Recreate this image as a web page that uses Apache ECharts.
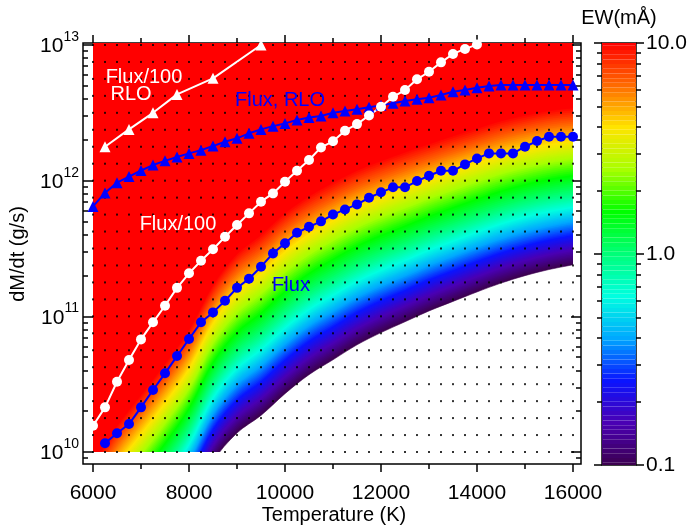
<!DOCTYPE html>
<html>
<head>
<meta charset="utf-8">
<script src="https://cdn.jsdelivr.net/npm/echarts@6/dist/echarts.min.js"></script>
<style>
  html, body { margin: 0; padding: 0; background: #fff; }
  #chart { width: 692px; height: 527px; }
</style>
</head>
<body>
<div id="chart"></div>
<script>
// 字体（Helvetica 风格）
const FONT = '"Liberation Sans", Arial, Helvetica, sans-serif';

// EW 场：每个温度列上读出的等值线位置（log10 dM/dt）
const fieldTemps = [6000, 6500, 7000, 7500, 8000, 8500, 9000, 9500, 10000, 10500, 11000,
  11500, 12000, 12500, 13000, 13500, 14000, 14500, 15000, 15500, 16000];
const logMdotEW01 = [8.55, 8.84, 9.07, 9.31, 9.58, 9.93, 10.14, 10.27, 10.43, 10.57, 10.68,
  10.79, 10.88, 10.96, 11.04, 11.11, 11.18, 11.245, 11.30, 11.345, 11.38];   // EW = 0.1 mÅ
const logMdotEW1 = [9.16, 9.45, 9.68, 9.91, 10.17, 10.51, 10.73, 10.87, 11.03, 11.165, 11.27,
  11.37, 11.45, 11.52, 11.595, 11.66, 11.725, 11.785, 11.835, 11.875, 11.905];  // EW = 1 mÅ
const logMdotEW10 = [9.90, 10.19, 10.42, 10.65, 10.90, 11.23, 11.46, 11.60, 11.76, 11.885, 11.985,
  12.075, 12.145, 12.21, 12.27, 12.33, 12.385, 12.44, 12.48, 12.515, 12.535];   // EW = 10 mÅ

// 模型网格点（黑色小点）
const gridTemps = [6000, 6250, 6500, 6750, 7000, 7250, 7500, 7750, 8000, 8250, 8500, 8750,
  9000, 9250, 9500, 9750, 10000, 10250, 10500, 10750, 11000, 11250, 11500, 11750, 12000,
  12250, 12500, 12750, 13000, 13250, 13500, 13750, 14000, 14250, 14500, 14750, 15000,
  15250, 15500, 15750, 16000];
const gridLogMdot = [10, 10.125, 10.25, 10.375, 10.5, 10.625, 10.75, 10.875, 11, 11.125,
  11.25, 11.375, 11.5, 11.625, 11.75, 11.875, 12, 12.125, 12.25, 12.375, 12.5, 12.625,
  12.75, 12.875, 13];

// 曲线：Flux/100 RLO（白色三角）
const rlo100Temps = [6250, 6750, 7250, 7750, 8500, 9500];
const rlo100LogMdot = [12.25, 12.378, 12.50, 12.636, 12.754, 13.0];

// 曲线：Flux, RLO（蓝色三角）
const rloTemps = [6000, 6250, 6500, 6750, 7000, 7250, 7500, 7750, 8000, 8250, 8500, 8750,
  9000, 9250, 9500, 9750, 10000, 10250, 10500, 10750, 11000, 11250, 11500, 11750, 12000,
  12250, 12500, 12750, 13000, 13250, 13500, 13750, 14000, 14250, 14500, 14750, 15000,
  15250, 15500, 15750, 16000];
const rloLogMdot = [11.81, 11.91, 11.985, 12.03, 12.075, 12.115, 12.146, 12.174, 12.201,
  12.225, 12.255, 12.287, 12.312, 12.349, 12.378, 12.402, 12.422, 12.447, 12.466, 12.476,
  12.50, 12.513, 12.527, 12.541, 12.555, 12.57, 12.587, 12.60, 12.611, 12.631, 12.655,
  12.668, 12.685, 12.697, 12.705, 12.705, 12.705, 12.705, 12.705, 12.705, 12.705];

// 曲线：Flux/100（白色圆点）
const flux100Temps = [6000, 6250, 6500, 6750, 7000, 7250, 7500, 7750, 8000, 8250, 8500,
  8750, 9000, 9250, 9500, 9750, 10000, 10250, 10500, 10750, 11000, 11250, 11500, 11750,
  12000, 12250, 12500, 12750, 13000, 13250, 13500, 13750, 14000];
const flux100LogMdot = [10.194, 10.329, 10.518, 10.678, 10.83, 10.956, 11.078, 11.21,
  11.317, 11.41, 11.494, 11.587, 11.673, 11.759, 11.845, 11.906, 11.992, 12.073, 12.152,
  12.245, 12.29, 12.368, 12.417, 12.48, 12.545, 12.618, 12.668, 12.747, 12.803, 12.872,
  12.934, 12.971, 13.003];

// 曲线：Flux（蓝色圆点）
const fluxTemps = [6250, 6500, 6750, 7000, 7250, 7500, 7750, 8000, 8250, 8500, 8750, 9000,
  9250, 9500, 9750, 10000, 10250, 10500, 10750, 11000, 11250, 11500, 11750, 12000, 12250,
  12500, 12750, 13000, 13250, 13500, 13750, 14000, 14250, 14500, 14750, 15000, 15250,
  15500, 15750, 16000];
const fluxLogMdot = [10.064, 10.138, 10.206, 10.329, 10.457, 10.58, 10.707, 10.833, 10.956,
  11.029, 11.115, 11.21, 11.277, 11.366, 11.464, 11.538, 11.616, 11.66, 11.70, 11.75,
  11.788, 11.825, 11.874, 11.914, 11.951, 11.951, 11.997, 12.036, 12.073, 12.073, 12.12,
  12.164, 12.201, 12.201, 12.201, 12.25, 12.292, 12.324, 12.324, 12.324];

// 刻度
const xMajorTicks = [6000, 8000, 10000, 12000, 14000, 16000];
const xMinorTicks = [7000, 9000, 11000, 13000, 15000];
const yMajorTicks = [10, 11, 12, 13];
const cbTickValues = [-1, 0, 1];
const cbTickLabels = ['0.1', '1.0', '10.0'];

// 彩虹色表（IDL Rainbow 近似），log10(EW) 从 -1 到 1 均匀分布
const ewColors = ['#3c0050', '#4a00b4', '#0a14ff', '#00a8ff', '#00ffe0', '#00ff78',
  '#00ff00', '#a8ff00', '#ffe400', '#ff6a00', '#ff0000'];

// 对数次刻度位置
const logMinor = (decades, lo, hi) => {
  const out = [];
  decades.forEach(d => { for (let k = 2; k <= 9; k++) { const v = d + Math.log10(k); if (v > lo && v < hi) out.push(v); } });
  return out;
};
const yMin = 9.9116, yMax = 13.0147;
const yMinorTicks = logMinor([9, 10, 11, 12, 13], yMin, yMax);
const cbMinorTicks = logMinor([-1, 0], -1, 1);

// 色阶层：逐层涂色
const N_LEVELS = 90;
const levels = [];
for (let k = 0; k <= N_LEVELS; k++) levels.push([-1 + 2 * k / N_LEVELS]);

function contourAt(i, e) {
  if (e <= 0) return logMdotEW01[i] + (e + 1) * (logMdotEW1[i] - logMdotEW01[i]);
  return logMdotEW1[i] + e * (logMdotEW10[i] - logMdotEW1[i]);
}

const chart = echarts.init(document.getElementById('chart'), null, { renderer: 'canvas' });

const tickAxisX = (pos, values, len, extra) => Object.assign({
  type: 'value', gridIndex: 0, position: pos, min: 5791.7, max: 16166.7,
  axisLine: { show: false, onZero: false },
  axisTick: { show: true, inside: false, length: len, customValues: values, lineStyle: { color: '#000', width: 1.5 } },
  axisLabel: { show: false },
  splitLine: { show: false }
}, extra || {});

const tickAxisY = (grid, pos, min, max, values, len, inside, extra) => Object.assign({
  type: 'value', gridIndex: grid, position: pos, min: min, max: max,
  axisLine: { show: false, onZero: false },
  axisTick: { show: true, inside: inside, length: len, customValues: values, lineStyle: { color: '#000', width: 1.5 } },
  axisLabel: { show: false },
  splitLine: { show: false }
}, extra || {});

const lineSeries = (name, xs, ys, color, symbol, size) => ({
  name: name, type: 'line', xAxisIndex: 0, yAxisIndex: 0,
  data: xs.map((t, i) => [t, ys[i]]),
  symbol: symbol, symbolSize: size, showSymbol: true,
  lineStyle: { color: color, width: 2 },
  itemStyle: { color: color, borderWidth: 0 },
  clip: true, z: 5, animation: false, silent: true
});

const option = {
  animation: false,
  backgroundColor: '#fff',
  grid: [
    { left: 83, top: 43, width: 498, height: 421, show: true, borderColor: '#000', borderWidth: 1.5, backgroundColor: 'transparent' },
    { left: 602, top: 43, width: 34, height: 422, show: true, borderColor: '#000', borderWidth: 1.5, backgroundColor: 'transparent' }
  ],
  xAxis: [
    tickAxisX('bottom', xMajorTicks, 8, {
      axisLabel: {
        show: true, customValues: xMajorTicks, margin: 19,
        formatter: v => String(v),
        color: '#000', fontSize: 21, fontFamily: FONT
      }
    }),
    tickAxisX('bottom', xMinorTicks, 5),
    tickAxisX('top', xMajorTicks, 8),
    tickAxisX('top', xMinorTicks, 5),
    { type: 'value', gridIndex: 1, min: 0, max: 1, show: false }
  ],
  yAxis: [
    tickAxisY(0, 'left', yMin, yMax, yMajorTicks, 10, true, {
      axisLabel: {
        show: true, customValues: yMajorTicks, margin: 4, inside: false,
        formatter: v => '{b|10}{s|' + Math.round(v) + '}',
        rich: {
          b: { fontSize: 21, fontFamily: FONT, color: '#000', verticalAlign: 'bottom', lineHeight: 24 },
          s: { fontSize: 14, fontFamily: FONT, color: '#000', verticalAlign: 'bottom', lineHeight: 14, padding: [0, 0, 13, 0] }
        }
      }
    }),
    tickAxisY(0, 'left', yMin, yMax, yMinorTicks, 5, true),
    tickAxisY(0, 'right', yMin, yMax, yMajorTicks, 10, true),
    tickAxisY(0, 'right', yMin, yMax, yMinorTicks, 5, true),
    tickAxisY(1, 'right', -1, 1, cbTickValues, 8, false, {
      axisLabel: {
        show: true, customValues: cbTickValues, margin: 10,
        formatter: v => cbTickLabels[cbTickValues.indexOf(Math.round(v))],
        color: '#000', fontSize: 21, fontFamily: FONT
      }
    }),
    tickAxisY(1, 'right', -1, 1, cbMinorTicks, 5, false),
    tickAxisY(1, 'left', -1, 1, cbTickValues, 8, false),
    tickAxisY(1, 'left', -1, 1, cbMinorTicks, 5, false)
  ],
  visualMap: {
    show: false, type: 'continuous', min: -1, max: 1, dimension: 0,
    seriesIndex: [0, 1], inRange: { color: ewColors }
  },
  series: [
    {
      // EW 色彩场：每层画等值线以上的区域，外侧加延伸点让平滑只影响裁剪区外
      type: 'custom', xAxisIndex: 0, yAxisIndex: 0, data: levels, z: 1, silent: true,
      clip: true,
      renderItem: function (params, api) {
        const e = api.value(0);
        const n = fieldTemps.length;
        const c = fieldTemps.map((t, i) => contourAt(i, e));
        const pts = [api.coord([fieldTemps[0] - 500, 2 * c[0] - c[1]])];
        fieldTemps.forEach((t, i) => pts.push(api.coord([t, c[i]])));
        pts.push(api.coord([fieldTemps[n - 1] + 500, 2 * c[n - 1] - c[n - 2]]));
        pts.push(api.coord([fieldTemps[n - 1] + 800, 15]));
        pts.push(api.coord([fieldTemps[0] - 800, 15]));
        const tl = api.coord([fieldTemps[0], yMax]);
        const br = api.coord([fieldTemps[n - 1], 10]);
        const col = api.visual('color');
        return {
          type: 'polygon',
          shape: { points: pts, smooth: 0.35 },
          style: { fill: col, stroke: col, lineWidth: 0.6 },
          clipPath: { type: 'rect', shape: { x: tl[0], y: tl[1], width: br[0] - tl[0], height: br[1] - tl[1] } }
        };
      }
    },
    {
      // 色标
      type: 'custom', xAxisIndex: 4, yAxisIndex: 4, data: levels, z: 1, silent: true, clip: true,
      renderItem: function (params, api) {
        const e = api.value(0);
        const h = 1 / N_LEVELS;
        const p0 = api.coord([0, e - h]);
        const p1 = api.coord([1, e + h]);
        return {
          type: 'rect',
          shape: { x: p0[0], y: p1[1], width: p1[0] - p0[0], height: p0[1] - p1[1] },
          style: { fill: api.visual('color') }
        };
      }
    },
    {
      // 网格点
      type: 'scatter', xAxisIndex: 0, yAxisIndex: 0, z: 3, silent: true,
      symbol: 'rect', symbolSize: 2,
      itemStyle: { color: '#000' },
      data: gridTemps.flatMap(t => gridLogMdot.map(m => [t, m]))
    },
    lineSeries('Flux/100 RLO', rlo100Temps, rlo100LogMdot, '#ffffff', 'triangle', 11),
    lineSeries('Flux, RLO', rloTemps, rloLogMdot, '#0000ff', 'triangle', 11),
    lineSeries('Flux/100', flux100Temps, flux100LogMdot, '#ffffff', 'circle', 10),
    lineSeries('Flux', fluxTemps, fluxLogMdot, '#0000ff', 'circle', 10)
  ],
  graphic: [
    { type: 'text', x: 144, y: 77, z: 10, style: { text: 'Flux/100', fill: '#fff', font: '20px ' + FONT, textAlign: 'center', textVerticalAlign: 'middle' } },
    { type: 'text', x: 131, y: 94, z: 10, style: { text: 'RLO', fill: '#fff', font: '20px ' + FONT, textAlign: 'center', textVerticalAlign: 'middle' } },
    { type: 'text', x: 280, y: 100, z: 10, style: { text: 'Flux, RLO', fill: '#0000ff', font: '20px ' + FONT, textAlign: 'center', textVerticalAlign: 'middle' } },
    { type: 'text', x: 178, y: 224, z: 10, style: { text: 'Flux/100', fill: '#fff', font: '20px ' + FONT, textAlign: 'center', textVerticalAlign: 'middle' } },
    { type: 'text', x: 291, y: 285, z: 10, style: { text: 'Flux', fill: '#0000ff', font: '20px ' + FONT, textAlign: 'center', textVerticalAlign: 'middle' } },
    { type: 'text', x: 334, y: 515, z: 10, style: { text: 'Temperature (K)', fill: '#000', font: '20px ' + FONT, textAlign: 'center', textVerticalAlign: 'middle' } },
    { type: 'text', x: 18, y: 254, rotation: Math.PI / 2, z: 10, style: { text: 'dM/dt (g/s)', fill: '#000', font: '20px ' + FONT, textAlign: 'center', textVerticalAlign: 'middle' } },
    { type: 'text', x: 619, y: 18, z: 10, style: { text: 'EW(mÅ)', fill: '#000', font: '20px ' + FONT, textAlign: 'center', textVerticalAlign: 'middle' } }
  ]
};

chart.setOption(option);
</script>
</body>
</html>
